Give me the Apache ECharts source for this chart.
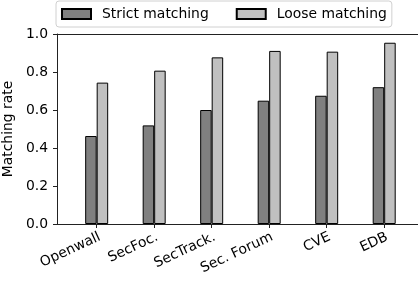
<!DOCTYPE html>
<html>
<head>
<meta charset="utf-8">
<script src="https://cdn.jsdelivr.net/npm/echarts@6/dist/echarts.min.js"></script>
<style>
  html, body { margin: 0; padding: 0; background: #fff; overflow: hidden; }
  #chart { width: 418px; height: 283px; }
</style>
</head>
<body>
<div id="chart"></div>
<script>
// data
const categories = ['Openwall', 'SecFoc.', 'SecTrack.', 'Sec. Forum', 'CVE', 'EDB']
const strictMatching = [0.463, 0.519, 0.600, 0.649, 0.675, 0.720]
const looseMatching = [0.744, 0.807, 0.877, 0.911, 0.907, 0.954]

const font = 'DejaVu Sans'
const fs = 13.9
const catIdx = categories.map((c, i) => i)

const chart = echarts.init(document.getElementById('chart'), null, { renderer: 'canvas' })

const spine = { show: true, onZero: false, lineStyle: { color: '#222', width: 1 } }

// plot is cut off on the right in the original, so the x range stops at the edge
const xMin = -0.69
const xMax = 5.588

const option = {
  backgroundColor: '#fff',
  animation: false,
  textStyle: { fontFamily: font, color: '#000' },
  legend: {
    left: 56,
    top: 1,
    padding: [6, 5, 6, 5],
    icon: 'rect',
    itemWidth: 29,
    itemHeight: 10,
    itemGap: 27,
    borderColor: '#d0d0d0',
    borderWidth: 1,
    borderRadius: 3,
    backgroundColor: '#fff',
    textStyle: { fontFamily: font, fontSize: fs, color: '#000', padding: [0, 0, 0, 6] },
    data: ['Strict matching', 'Loose matching']
  },
  grid: {
    left: 57,
    width: 361,
    top: 34,
    bottom: 59,
    containLabel: false,
    outerBoundsMode: 'none'
  },
  xAxis: [
    {
      type: 'value',
      min: xMin,
      max: xMax,
      splitLine: { show: false },
      axisLine: spine,
      axisTick: { show: true, length: 4, customValues: catIdx, lineStyle: { color: '#222' } },
      axisLabel: {
        customValues: catIdx,
        formatter: v => categories[Math.round(v)],
        rotate: 25,
        align: 'right',
        verticalAlign: 'top',
        margin: 6,
        fontFamily: font,
        fontSize: fs,
        color: '#000'
      }
    },
    {
      // top spine only
      type: 'value',
      position: 'top',
      min: xMin,
      max: xMax,
      splitLine: { show: false },
      axisLine: spine,
      axisTick: { show: false },
      axisLabel: { show: false }
    }
  ],
  yAxis: {
    type: 'value',
    min: 0,
    max: 1,
    interval: 0.2,
    name: 'Matching rate',
    nameLocation: 'middle',
    nameGap: 33,
    nameTextStyle: { fontFamily: font, fontSize: fs, color: '#000' },
    splitLine: { show: false },
    axisLine: spine,
    axisTick: { show: true, length: 4, lineStyle: { color: '#222' } },
    axisLabel: {
      formatter: v => v.toFixed(1),
      margin: 9,
      fontFamily: font,
      fontSize: fs,
      color: '#000'
    }
  },
  series: [
    {
      name: 'Strict matching',
      type: 'bar',
      barWidth: 11.5,
      barGap: 0,
      itemStyle: { color: '#808080', borderColor: '#000', borderWidth: 1 },
      data: strictMatching.map((v, i) => [i, v])
    },
    {
      name: 'Loose matching',
      type: 'bar',
      barWidth: 11.5,
      barGap: 0,
      itemStyle: { color: '#c0c0c0', borderColor: '#000', borderWidth: 1 },
      data: looseMatching.map((v, i) => [i, v])
    }
  ]
}
chart.setOption(option)
</script>
</body>
</html>
